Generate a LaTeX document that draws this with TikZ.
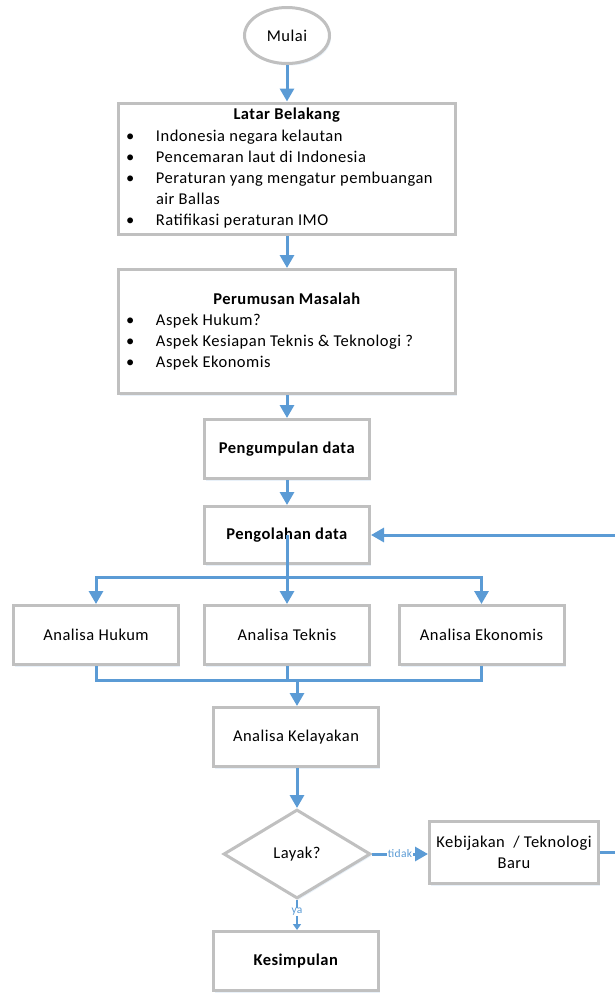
\documentclass[tikz,border=0pt]{standalone}
\usepackage{fontspec}
\setmainfont{Carlito}[LetterSpace=3]
\usetikzlibrary{arrows.meta,shapes.geometric,shadows}
\definecolor{lineblue}{HTML}{5B9BD5}
\definecolor{boxgray}{HTML}{C0C0C0}
\begin{document}
\begin{tikzpicture}[x=1pt,y=-1pt,
  every node/.style={font=\fontsize{16.5}{21}\selectfont},
  box/.style={draw=boxgray, line width=3pt, fill=white, inner sep=2pt,
    drop shadow={shadow xshift=1.5pt, shadow yshift=-2pt, opacity=0.3, fill=lineblue!45}},
  smallbox/.style={box, minimum width=165, minimum height=59},
  conn/.style={draw=lineblue, line width=3pt, -{Triangle[width=14pt,length=13pt]}},
  plain/.style={draw=lineblue, line width=3pt},
  lbl/.style={font=\fontsize{11.5}{12}\selectfont, text=lineblue, fill=white, inner sep=0.5pt}]
\useasboundingbox (0,0) rectangle (614,994);

\node[box, ellipse, minimum width=85, minimum height=56] (mulai) at (287,35.5) {Mulai};

\node[box, minimum width=337, minimum height=124] (latar) at (287,168.5) {%
\begin{tabular}{@{}p{30pt}@{}p{292pt}@{}}
\multicolumn{2}{c}{\textbf{Latar Belakang}}\\[1pt]
\textbullet & Indonesia negara kelautan\\
\textbullet & Pencemaran laut di Indonesia\\
\textbullet & Peraturan yang mengatur pembuangan\newline air Ballas\\
\textbullet & Ratifikasi peraturan IMO
\end{tabular}};

\node[box, minimum width=337, minimum height=124] (rumus) at (287,331.5) {%
\begin{tabular}{@{}p{30pt}@{}p{292pt}@{}}
\multicolumn{2}{c}{\textbf{Perumusan Masalah}}\\
\textbullet & Aspek Hukum?\\
\textbullet & Aspek Kesiapan Teknis \& Teknologi ?\\
\textbullet & Aspek Ekonomis
\end{tabular}};

\node[smallbox] (kumpul) at (287,449) {\textbf{Pengumpulan data}};
\node[smallbox, minimum height=57] (olah) at (287,535) {\textbf{Pengolahan data}};

\node[smallbox] (hukum) at (96,635) {Analisa Hukum};
\node[smallbox] (teknis) at (287,635) {Analisa Teknis};
\node[smallbox] (ekonomis) at (481.5,635) {Analisa Ekonomis};

\node[smallbox] (layakan) at (296,737) {Analisa Kelayakan};

\node[box, diamond, minimum width=147, minimum height=89, inner sep=0pt] (layak) at (297,854) {Layak?};

\node[box, minimum width=169, minimum height=62, align=center] (kebijak) at (514,852.5) {Kebijakan~ / Teknologi\\Baru};

\node[smallbox] (simpul) at (296,961) {\textbf{Kesimpulan}};

\coordinate (split) at (287,577);
\coordinate (merge) at (297,680);

\draw[conn] (mulai) -- (latar);
\draw[conn] (latar) -- (rumus);
\draw[conn] (rumus.south) -- (rumus.south |- kumpul.north);
\draw[conn] (kumpul) -- (olah);

\draw[plain] (olah.center) -- (split);
\draw[conn] (split) -| (hukum.north);
\draw[conn] (split) -| (ekonomis.north);
\draw[conn] (split) -- (teknis.north);

\draw[plain] (hukum.south) -- (hukum.south |- merge) -- (ekonomis.south |- merge) -- (ekonomis.south);
\draw[plain] (teknis.south) -- (teknis.south |- merge);
\draw[conn] (merge) -- (merge |- layakan.north);

\draw[conn] (layakan.south -| layak.north) -- (layak.north);
\draw[conn] (layak.east) -- node[lbl] {tidak} (layak.east -| kebijak.west);
\draw[plain] (kebijak.east) -- ++(22,0) coordinate (back) -- (back |- olah.east);
\draw[conn] (back |- olah.east) -- (olah.east);
\draw[draw=lineblue, line width=2.5pt, -{Triangle[width=8pt,length=6pt]}] (layak.south) -- node[lbl, pos=0.4] {ya} (layak.south |- simpul.north);
\end{tikzpicture}
\end{document}
